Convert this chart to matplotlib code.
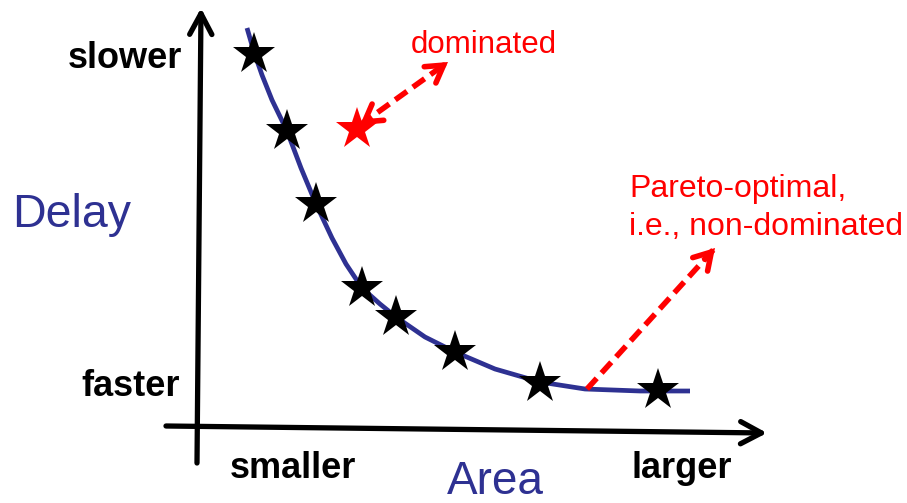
import matplotlib
matplotlib.use("Agg")
import matplotlib.pyplot as plt

# ---- data (canvas units: x right, y down) ----
star_x = [254, 287, 316, 362, 396, 455, 540, 658]
star_y = [54, 131, 204, 288, 317, 352, 383, 390]

dominated_x = [357]
dominated_y = [129]

curve_x = [247, 254, 262, 272, 287, 301, 316, 332, 346, 362, 380, 396, 425, 455, 495, 540, 585, 640, 690]
curve_y = [28, 52, 75, 100, 131, 168, 204, 238, 264, 288, 304, 317, 337, 352, 369, 382, 389, 391, 391]

y_axis_ends = [(197, 463), (201, 8)]
x_axis_ends = [(166, 426), (767, 433)]

dom_arrow = [(360, 125), (448, 62)]
pareto_arrow = [(587, 389), (715, 248)]

BLUE = "#2E3192"
RED = "#FF0000"

plt.rcParams["font.family"] = ["Liberation Sans", "DejaVu Sans"]

fig = plt.figure(figsize=(9.07, 5.03), dpi=100)
ax = fig.add_axes([0, 0, 1, 1])
ax.set_xlim(0, 907)
ax.set_ylim(503, 0)
ax.axis("off")

# axes arrows
axis_style = dict(arrowstyle="->,head_length=0.75,head_width=0.4", lw=3.8,
                  color="black", shrinkA=0, shrinkB=0, capstyle="round",
                  joinstyle="round", mutation_scale=20)
ax.annotate("", xy=y_axis_ends[1], xytext=y_axis_ends[0], arrowprops=axis_style)
ax.annotate("", xy=x_axis_ends[1], xytext=x_axis_ends[0], arrowprops=axis_style)

# pareto curve
ax.plot(curve_x, curve_y, color=BLUE, lw=3.4, solid_capstyle="butt",
        solid_joinstyle="round", zorder=2)

# stars
ax.plot(star_x, star_y, linestyle="none", marker="*", ms=32, color="black",
        markeredgewidth=0, zorder=3)
ax.plot(dominated_x, dominated_y, linestyle="none", marker="*", ms=32,
        color=RED, markeredgewidth=0, zorder=3)


# red dashed arrows: dashed shaft, solid chevron heads
def head(tip, tail):
    base = (tip[0] - 0.08 * (tip[0] - tail[0]), tip[1] - 0.08 * (tip[1] - tail[1]))
    ax.annotate("", xy=tip, xytext=base,
                arrowprops=dict(arrowstyle="->,head_length=0.6,head_width=0.36",
                                lw=4.0, color=RED, shrinkA=0, shrinkB=0,
                                mutation_scale=20, joinstyle="miter"),
                zorder=4)


def dashed_arrow(p0, p1, both=False):
    ax.plot([p0[0], p1[0]], [p0[1], p1[1]], color=RED, lw=4.0,
            dashes=(2.6, 1.3), dash_capstyle="butt", zorder=4)
    head(p1, p0)
    if both:
        head(p0, p1)


dashed_arrow(dom_arrow[0], dom_arrow[1], both=True)
dashed_arrow(pareto_arrow[0], pareto_arrow[1])

# texts
ax.text(182, 68, "slower", ha="right", va="baseline", fontsize=26,
        fontweight="bold", color="black")
ax.text(180, 396, "faster", ha="right", va="baseline", fontsize=26,
        fontweight="bold", color="black")
ax.text(230, 478, "smaller", ha="left", va="baseline", fontsize=26,
        fontweight="bold", color="black")
ax.text(632, 478, "larger", ha="left", va="baseline", fontsize=26,
        fontweight="bold", color="black")
ax.text(12, 227, "Delay", ha="left", va="baseline", fontsize=33.5, color=BLUE)
ax.text(495, 494, "Area", ha="center", va="baseline", fontsize=33, color=BLUE)
ax.text(411, 53, "dominated", ha="left", va="baseline", fontsize=22.5, color=RED)
ax.text(629, 197, "Pareto-optimal,", ha="left", va="baseline", fontsize=23, color=RED)
ax.text(629, 235, "i.e., non-dominated", ha="left", va="baseline", fontsize=23, color=RED)

fig.savefig("out.png", dpi=100)
